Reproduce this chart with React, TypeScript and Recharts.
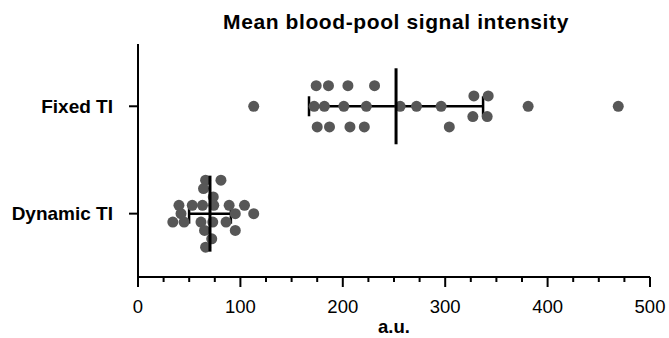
import { ScatterChart, Scatter, XAxis, YAxis, ErrorBar } from "recharts";

// categories on the y axis (bottom to top)
const categories = ["Dynamic TI", "Fixed TI"];

// Fixed TI: values, lane = swarm row (+ up, - down)
const fixedValues = [174, 186, 205, 231, 328, 342, 113, 172, 182, 201, 223, 256, 272, 296, 381, 469, 327, 341, 175, 187, 207, 221, 304];
const fixedLanes = [2, 2, 2, 2, 1, 1, 0, 0, 0, 0, 0, 0, 0, 0, 0, 0, -1, -1, -2, -2, -2, -2, -2];

// Dynamic TI
const dynamicValues = [66, 81, 64, 73.5, 40, 53, 63, 74, 89, 104, 42, 95, 113, 34, 45, 61.5, 73, 86, 65, 95, 72, 66];
const dynamicLanes = [4, 4, 3, 2, 1, 1, 1, 1, 1, 1, 0, 0, 0, -1, -1, -1, -1, -1, -2, -2, -3, -4];

// mean and SD per category (same order as categories)
const means = [70.3, 252];
const sds = [20.4, 85];

const xTicks = [0, 25, 50, 75, 100, 125, 150, 175, 200, 225, 250, 275, 300, 325, 350, 375, 400, 425, 450, 475, 500];

const FONT = "'Liberation Sans', Arial, sans-serif";

const dots = [
    ...dynamicValues.map((v, i) => ({ x: v, y: 0 + dynamicLanes[i] * 0.078 })),
    ...fixedValues.map((v, i) => ({ x: v, y: 1 + fixedLanes[i] * 0.096 })),
];

const summary = categories.map((c, i) => ({ x: means[i], y: i, sd: sds[i], name: c }));

const Dot = (props: any) => <circle cx={props.cx} cy={props.cy} r={5.5} fill="#575757" />;

const MeanLine = (props: any) => (
    <line x1={props.cx} x2={props.cx} y1={props.cy - 38} y2={props.cy + 38} stroke="#000" strokeWidth={3} />
);

const XTick = (props: any) => {
    const { x, y, payload } = props;
    const major = payload.value % 100 === 0;
    return (
        <g>
            <line x1={x} x2={x} y1={y} y2={y + (major ? 10 : 5)} stroke="#000" strokeWidth={2} />
            {major && (
                <text x={x} y={y + 36} textAnchor="middle" fontSize={18.5} fontFamily={FONT} fill="#000">
                    {payload.value}
                </text>
            )}
        </g>
    );
};

export default function App() {
    return (
        <div style={{ position: "fixed", left: 0, top: 0, width: 669, height: 338, background: "#fff" }}>
            <div
                style={{
                    position: "absolute",
                    left: 146,
                    width: 500,
                    top: 11,
                    textAlign: "center",
                    fontFamily: FONT,
                    fontWeight: "bold",
                    fontSize: 21,
                    letterSpacing: "0.6px",
                    lineHeight: "21px",
                    color: "#000",
                }}
            >
                Mean blood-pool signal intensity
            </div>
            <ScatterChart width={669} height={338} margin={{ top: 44, right: 19, left: 0, bottom: 0 }}>
                <XAxis
                    type="number"
                    dataKey="x"
                    domain={[0, 500]}
                    ticks={xTicks}
                    interval={0}
                    height={61}
                    tickSize={0}
                    tickMargin={0}
                    tickLine={false}
                    tick={<XTick />}
                    axisLine={{ stroke: "#000", strokeWidth: 2 }}
                    allowDataOverflow
                    label={{
                        value: "a.u.",
                        position: "insideBottom",
                        offset: 5,
                        fontSize: 18.5,
                        fontWeight: "bold",
                        fontFamily: FONT,
                        fill: "#000",
                    }}
                />
                <YAxis
                    type="number"
                    dataKey="y"
                    domain={[-0.59, 1.58]}
                    ticks={[0, 1]}
                    interval={0}
                    width={138}
                    allowDataOverflow
                    tickSize={9}
                    tickMargin={16}
                    tickFormatter={(v: number) => categories[v]}
                    tick={{ fontSize: 19, fontWeight: "bold", fontFamily: FONT, fill: "#000" }}
                    tickLine={{ stroke: "#000", strokeWidth: 2 }}
                    axisLine={{ stroke: "#000", strokeWidth: 2 }}
                />
                <Scatter data={dots} shape={<Dot />} isAnimationActive={false} />
                <Scatter data={summary} shape={<MeanLine />} isAnimationActive={false}>
                    <ErrorBar dataKey="sd" direction="x" width={10} stroke="#000" strokeWidth={2.5} />
                </Scatter>
            </ScatterChart>
        </div>
    );
}
